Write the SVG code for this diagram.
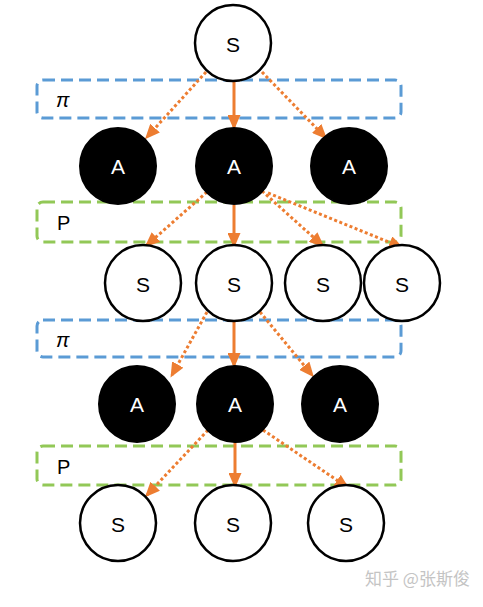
<svg xmlns="http://www.w3.org/2000/svg" width="483" height="607" viewBox="0 0 483 607">
<style>
.box{fill:none;stroke-width:3;stroke-dasharray:12 6}
.pi{stroke:#5B9BD5}
.pb{stroke:#92C857}
.s circle{fill:#fff;stroke:#000;stroke-width:2.5}
.a circle{fill:#000;stroke:#000;stroke-width:2}
.s text{font-family:"Liberation Sans",Arial,sans-serif;font-size:21px;fill:#000;text-anchor:middle;dominant-baseline:central}
.a text{font-family:"Liberation Sans",Arial,sans-serif;font-size:21px;fill:#fff;text-anchor:middle;dominant-baseline:central}
.lbl{font-family:"Liberation Sans",Arial,sans-serif;font-size:20px;fill:#000}
.sol{stroke:#ED7D31;stroke-width:3;fill:none;marker-end:url(#ah)}
.dot{stroke:#ED7D31;stroke-width:3;fill:none;stroke-dasharray:3 2.5;marker-end:url(#ah)}
</style>
<defs>
<marker id="ah" markerUnits="userSpaceOnUse" markerWidth="15" markerHeight="13" refX="12" refY="6.5" orient="auto">
<path d="M0,0 L15,6.5 L0,13 Z" fill="#ED7D31"/>
</marker>
</defs>
<rect width="483" height="607" fill="#fff"/>
<g id="boxes">
<rect class="box pi" x="37" y="80" width="364" height="38" rx="6"/>
<rect class="box pb" x="37" y="202" width="364" height="40" rx="6"/>
<rect class="box pi" x="37" y="320" width="364" height="37" rx="6"/>
<rect class="box pb" x="37" y="446" width="364" height="39" rx="6"/>
<text class="lbl" x="56" y="107" font-family="'Liberation Serif',serif" font-style="italic" font-size="23">π</text>
<text class="lbl" x="57" y="230">P</text>
<text class="lbl" x="56" y="347" font-family="'Liberation Serif',serif" font-style="italic" font-size="23">π</text>
<text class="lbl" x="57" y="474">P</text>
</g>
<g id="connectors">
<path class="dot" d="M206,72 L147,137"/>
<path class="sol" d="M234,82 L234,127"/>
<path class="dot" d="M262,72 L325,137"/>
<path class="dot" d="M207,192 L147,245"/>
<path class="sol" d="M234,205 L234,245"/>
<path class="dot" d="M262,191 L322,245"/>
<path class="dot" d="M268,193 L401,247"/>
<path class="dot" d="M207,312 L172,375"/>
<path class="sol" d="M234,321 L234,365"/>
<path class="dot" d="M260,312 L312,375"/>
<path class="dot" d="M208,430 L147,495"/>
<path class="sol" d="M235,442 L235,485"/>
<path class="dot" d="M263,430 L347,487"/>
</g>
<g id="s0" class="s"><circle cx="233" cy="43" r="38"/><text x="233" y="44">S</text></g>
<g id="a1" class="a"><circle cx="118" cy="166" r="38"/><text x="118" y="166">A</text></g>
<g id="a2" class="a"><circle cx="234" cy="166" r="38"/><text x="234" y="166">A</text></g>
<g id="a3" class="a"><circle cx="349" cy="166" r="38"/><text x="349" y="166">A</text></g>
<g id="s1" class="s"><circle cx="143" cy="283" r="38"/><text x="143" y="284">S</text></g>
<g id="s2" class="s"><circle cx="234" cy="283" r="38"/><text x="234" y="284">S</text></g>
<g id="s3" class="s"><circle cx="323" cy="283" r="38"/><text x="323" y="284">S</text></g>
<g id="s4" class="s"><circle cx="402" cy="283" r="38"/><text x="402" y="284">S</text></g>
<g id="a4" class="a"><circle cx="137" cy="404" r="38"/><text x="137" y="404">A</text></g>
<g id="a5" class="a"><circle cx="235" cy="404" r="38"/><text x="235" y="404">A</text></g>
<g id="a6" class="a"><circle cx="340" cy="404" r="38"/><text x="340" y="404">A</text></g>
<g id="s5" class="s"><circle cx="118" cy="523" r="38"/><text x="118" y="524">S</text></g>
<g id="s6" class="s"><circle cx="233" cy="523" r="38"/><text x="233" y="524">S</text></g>
<g id="s7" class="s"><circle cx="346" cy="523" r="38"/><text x="346" y="524">S</text></g>
<text x="365" y="585" font-family="'Noto Sans CJK SC',sans-serif" font-size="17" fill="#c4c4c4">知乎 @张斯俊</text>
</svg>
